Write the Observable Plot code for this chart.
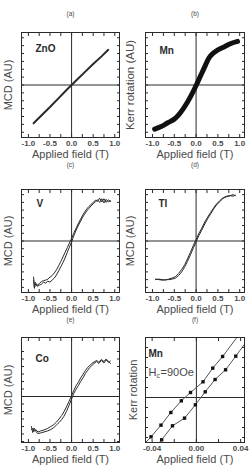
<!DOCTYPE html>
<html><head><meta charset="utf-8">
<script src="https://cdn.jsdelivr.net/npm/d3@7"></script>
<script src="https://cdn.jsdelivr.net/npm/@observablehq/plot@0.6"></script>
<style>
body{margin:0;background:#fff;}
#wrap{position:relative;width:250px;height:469px;overflow:hidden;}
#wrap svg{position:absolute;}
</style></head><body><div id="wrap"></div>
<script>
// tick positions and labels
const fieldTicks = [-1, -0.5, 0, 0.5, 1];
const fieldMinor = [-1, -0.75, -0.5, -0.25, 0, 0.25, 0.5, 0.75, 1];
const smallFieldTicks = [-0.04, 0, 0.04];
const smallFieldMinor = [-0.04, -0.02, 0, 0.02, 0.04];
const yMinor = [-0.9, -0.75, -0.6, -0.45, -0.3, -0.15, 0, 0.15, 0.3, 0.45, 0.6, 0.75, 0.9];
const yMinorF = [-0.8, -0.6, -0.4, -0.2, 0, 0.2, 0.4, 0.6, 0.8, 1.0];

// (a) ZnO
const znoField = [-0.88, -0.7, -0.5, -0.3, -0.1, 0, 0.1, 0.3, 0.5, 0.7, 0.85];
const znoMCD   = [-0.73, -0.58, -0.42, -0.25, -0.08, 0, 0.08, 0.24, 0.4, 0.55, 0.67];

// (b) Mn Kerr rotation
const mnField = [-0.95, -0.8, -0.65, -0.5, -0.4, -0.3, -0.2, -0.1, 0, 0.1, 0.2, 0.3, 0.4, 0.5, 0.65, 0.8, 0.95];
const mnKerr  = [-0.84, -0.79, -0.72, -0.65, -0.57, -0.46, -0.33, -0.18, -0.01, 0.17, 0.35, 0.52, 0.61, 0.67, 0.73, 0.79, 0.83];

// (c) V: two sweeps
const vField = [-0.88, -0.86, -0.84, -0.8, -0.75, -0.7, -0.65, -0.6, -0.55, -0.5, -0.45, -0.4, -0.35, -0.3, -0.25, -0.2, -0.15, -0.1, -0.05, 0, 0.05, 0.1, 0.15, 0.2, 0.25, 0.3, 0.35, 0.4, 0.45, 0.5, 0.55, 0.6, 0.65, 0.7, 0.75, 0.8, 0.85, 0.9];
const vUp   = [-0.7, -0.9, -0.84, -0.88, -0.86, -0.84, -0.8, -0.82, -0.78, -0.8, -0.76, -0.72, -0.66, -0.58, -0.5, -0.42, -0.33, -0.22, -0.12, -0.02, 0.1, 0.2, 0.29, 0.37, 0.45, 0.52, 0.58, 0.63, 0.68, 0.72, 0.76, 0.8, 0.75, 0.82, 0.74, 0.81, 0.76, 0.78];
const vDown = [-0.76, -0.92, -0.8, -0.86, -0.83, -0.79, -0.77, -0.76, -0.74, -0.7, -0.67, -0.62, -0.56, -0.48, -0.4, -0.31, -0.22, -0.13, -0.04, 0.05, 0.15, 0.24, 0.33, 0.41, 0.49, 0.56, 0.62, 0.67, 0.71, 0.75, 0.79, 0.77, 0.83, 0.76, 0.82, 0.75, 0.8, 0.77];

// (d) Tl: two sweeps
const tlField = [-0.93, -0.85, -0.78, -0.7, -0.63, -0.55, -0.47, -0.4, -0.33, -0.26, -0.2, -0.13, -0.06, 0, 0.06, 0.13, 0.2, 0.27, 0.33, 0.4, 0.47, 0.55, 0.62, 0.7, 0.78, 0.85, 0.9];
const tlUp   = [-0.74, -0.75, -0.76, -0.75, -0.75, -0.74, -0.72, -0.67, -0.6, -0.5, -0.4, -0.27, -0.13, -0.02, 0.1, 0.21, 0.33, 0.44, 0.52, 0.62, 0.7, 0.77, 0.83, 0.86, 0.88, 0.87, 0.89];
const tlDown = [-0.75, -0.74, -0.75, -0.76, -0.74, -0.72, -0.69, -0.63, -0.55, -0.46, -0.35, -0.22, -0.08, 0.03, 0.14, 0.25, 0.37, 0.47, 0.55, 0.64, 0.72, 0.79, 0.84, 0.87, 0.88, 0.9, 0.88];

// (e) Co: two sweeps
const coField = [-0.93, -0.9, -0.87, -0.83, -0.78, -0.72, -0.64, -0.56, -0.48, -0.41, -0.35, -0.29, -0.23, -0.18, -0.12, -0.06, 0, 0.05, 0.1, 0.16, 0.21, 0.27, 0.32, 0.37, 0.42, 0.47, 0.52, 0.58, 0.63, 0.69, 0.75, 0.8, 0.86, 0.9];
const coUp   = [-0.6, -0.72, -0.63, -0.7, -0.74, -0.73, -0.71, -0.69, -0.66, -0.62, -0.57, -0.52, -0.46, -0.4, -0.3, -0.18, -0.05, 0.06, 0.14, 0.22, 0.3, 0.38, 0.46, 0.52, 0.58, 0.62, 0.66, 0.7, 0.66, 0.72, 0.67, 0.73, 0.68, 0.71];
const coDown = [-0.66, -0.64, -0.7, -0.66, -0.71, -0.69, -0.67, -0.64, -0.6, -0.56, -0.51, -0.45, -0.38, -0.31, -0.21, -0.1, 0.02, 0.12, 0.21, 0.29, 0.37, 0.45, 0.52, 0.58, 0.62, 0.66, 0.69, 0.72, 0.69, 0.74, 0.7, 0.75, 0.7, 0.66];

// (f) Mn, Hc = 90 Oe: two branches with square markers
const loopUpField = [-0.048, -0.041, -0.032, -0.0231, -0.0136, -0.0053, 0.006, 0.0148, 0.0237, 0.04];
const loopUpKerr  = [-0.95, -0.786, -0.553, -0.3, -0.066, 0.1, 0.314, 0.587, 0.82, 1.3];
const loopDownField = [-0.037, -0.0314, -0.0216, -0.0107, -0.0009, 0.008, 0.0169, 0.0264, 0.0356, 0.048];
const loopDownKerr  = [-1.0, -0.846, -0.566, -0.413, -0.146, 0.114, 0.36, 0.554, 0.827, 1.2];

const zip = (xs, ys) => xs.map((x, i) => ({x, y: ys[i]}));
const FONT = "'Liberation Sans', Arial, sans-serif";
const INK = "#2a2a2a";
const GREY = "#4a4a4a";

function panel(o) {
  const marks = [
    Plot.ruleX([0], {stroke: INK, strokeWidth: 1}),
    Plot.ruleY([0], {stroke: INK, strokeWidth: 1}),
    ...o.marks,
    Plot.frame({stroke: INK, strokeWidth: 1}),
    Plot.axisX(o.xMinor, {anchor: "bottom", tickSize: -3, tickFormat: () => "", label: null, stroke: INK}),
    Plot.axisX(o.xMinor, {anchor: "top", tickSize: -3, tickFormat: () => "", label: null, stroke: INK}),
    Plot.axisX(o.xTicks, {anchor: "bottom", tickSize: 0, tickPadding: 3, tickFormat: o.fmt, label: null, fontSize: 8, fontWeight: "bold", fill: GREY}),
    Plot.axisY(o.yMinor, {anchor: "left", tickSize: -3, tickFormat: () => "", label: null, stroke: INK}),
    Plot.axisY(o.yMinor, {anchor: "right", tickSize: -3, tickFormat: () => "", label: null, stroke: INK}),
    Plot.text(["Applied field (T)"], {frameAnchor: "bottom", dy: 17, lineAnchor: "middle", fontSize: 11, fill: GREY}),
    Plot.text([o.yLabel], {frameAnchor: "left", dx: o.yDx, rotate: -90, textAnchor: "middle", lineAnchor: "middle", fontSize: o.yFont || 11, fill: GREY}),
    Plot.text([o.letter], {frameAnchor: "top", dy: o.letterDy, lineAnchor: "middle", fontSize: 6.5, fill: GREY}),
    Plot.text([o.name], {frameAnchor: "top-left", dx: o.nameDx, dy: o.nameDy, lineAnchor: "middle", fontWeight: "bold", fontSize: 10, fill: INK}),
    ...(o.extra || [])
  ];
  const svg = Plot.plot({
    width: 125, height: o.height,
    marginLeft: o.ml, marginRight: o.mr, marginTop: o.mt, marginBottom: o.mb,
    x: {domain: o.xDomain}, y: {domain: o.yDomain},
    style: {fontFamily: FONT, background: "none", overflow: "visible"},
    marks
  });
  svg.style.left = o.left + "px";
  svg.style.top = o.top + "px";
  document.getElementById("wrap").appendChild(svg);
}

const FX = [-1.16, 1.11];
const fmt1 = d => d.toFixed(1);
const fmt2 = d => d.toFixed(2);
const L = {left: 0, ml: 21, mr: 6, yDx: -13};
const R = {left: 125, ml: 20, mr: 6, yDx: -15};
const row1 = {top: 0, height: 160, mt: 32, mb: 23, letterDy: -19};
const row2 = {top: 158, height: 156, mt: 31, mb: 22, letterDy: -25};
const row3 = {top: 310, height: 159, mt: 27, mb: 27, letterDy: -18};

panel({...L, ...row1, letter: "(a)", name: "ZnO", nameDx: 14, nameDy: 16, yLabel: "MCD (AU)",
  xDomain: FX, yDomain: [-1, 1], xTicks: fieldTicks, xMinor: fieldMinor, yMinor, fmt: fmt1,
  marks: [Plot.line(zip(znoField, znoMCD), {x: "x", y: "y", stroke: INK, strokeWidth: 2})]});

panel({...R, ...row1, letter: "(b)", name: "Mn", nameDx: 14, nameDy: 18, yLabel: "Kerr rotation (AU)", yFont: 11.5,
  xDomain: FX, yDomain: [-1, 1], xTicks: fieldTicks, xMinor: fieldMinor, yMinor, fmt: fmt1,
  marks: [Plot.line(zip(mnField, mnKerr), {x: "x", y: "y", stroke: "#111", strokeWidth: 5, curve: "catmull-rom"})]});

panel({...L, ...row2, letter: "(c)", name: "V", nameDx: 15, nameDy: 14, yLabel: "MCD (AU)",
  xDomain: FX, yDomain: [-1, 1], xTicks: fieldTicks, xMinor: fieldMinor, yMinor, fmt: fmt1,
  marks: [
    Plot.line(zip(vField, vUp), {x: "x", y: "y", stroke: INK, strokeWidth: 1}),
    Plot.line(zip(vField, vDown), {x: "x", y: "y", stroke: INK, strokeWidth: 1})
  ]});

panel({...R, ...row2, letter: "(d)", name: "Tl", nameDx: 13, nameDy: 14, yLabel: "MCD (AU)",
  xDomain: FX, yDomain: [-1, 1], xTicks: fieldTicks, xMinor: fieldMinor, yMinor, fmt: fmt1,
  marks: [
    Plot.line(zip(tlField, tlUp), {x: "x", y: "y", stroke: INK, strokeWidth: 1}),
    Plot.line(zip(tlField, tlDown), {x: "x", y: "y", stroke: INK, strokeWidth: 1})
  ]});

panel({...L, ...row3, letter: "(e)", name: "Co", nameDx: 14, nameDy: 21, yLabel: "MCD (AU)",
  xDomain: FX, yDomain: [-0.92, 1.18], xTicks: fieldTicks, xMinor: fieldMinor, yMinor, fmt: fmt1,
  marks: [
    Plot.line(zip(coField, coUp), {x: "x", y: "y", stroke: INK, strokeWidth: 1}),
    Plot.line(zip(coField, coDown), {x: "x", y: "y", stroke: INK, strokeWidth: 1})
  ]});

panel({...R, ...row3, letter: "(f)", name: "Mn", nameDx: 3, nameDy: 16, yLabel: "Kerr rotation", yDx: -12,
  xDomain: [-0.046, 0.0435], yDomain: [-0.9, 1.2], xTicks: smallFieldTicks, xMinor: smallFieldMinor, yMinor: yMinorF, fmt: fmt2,
  marks: [
    Plot.line(zip(loopUpField, loopUpKerr), {x: "x", y: "y", stroke: "#555", strokeWidth: 1, clip: true}),
    Plot.line(zip(loopDownField, loopDownKerr), {x: "x", y: "y", stroke: "#555", strokeWidth: 1, clip: true}),
    Plot.dot(zip(loopUpField, loopUpKerr), {x: "x", y: "y", symbol: "square", r: 1.9, fill: "#111", stroke: "none", clip: true}),
    Plot.dot(zip(loopDownField, loopDownKerr), {x: "x", y: "y", symbol: "square", r: 1.9, fill: "#111", stroke: "none", clip: true})
  ],
  extra: [
    Plot.text(["H"], {frameAnchor: "top-left", dx: 3, dy: 35, lineAnchor: "middle", fontSize: 11, fill: GREY}),
    Plot.text(["c"], {frameAnchor: "top-left", dx: 11, dy: 38, lineAnchor: "middle", fontSize: 7, fill: GREY}),
    Plot.text(["=90Oe"], {frameAnchor: "top-left", dx: 15, dy: 35, lineAnchor: "middle", fontSize: 11, fill: GREY})
  ]});
</script></body></html>
